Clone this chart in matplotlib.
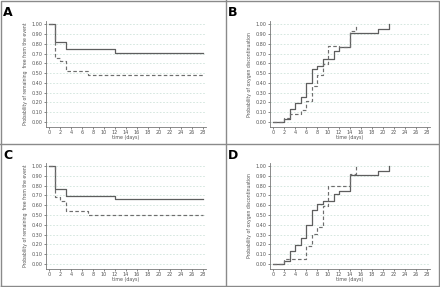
import matplotlib
matplotlib.use("Agg")
import matplotlib.pyplot as plt
from matplotlib.lines import Line2D

# Panel A (event-free survival)
a_solid_t = [0, 1, 3, 12, 28]
a_solid_p = [1.00, 0.82, 0.75, 0.71, 0.71]
a_dash_t = [0, 1, 2, 3, 7, 28]
a_dash_p = [1.00, 0.66, 0.62, 0.52, 0.48, 0.48]

# Panel B (oxygen discontinuation)
b_solid_t = [0, 2, 3, 4, 5, 6, 7, 8, 9, 11, 12, 14, 19, 21]
b_solid_p = [0.00, 0.03, 0.13, 0.19, 0.26, 0.40, 0.54, 0.57, 0.65, 0.73, 0.77, 0.91, 0.95, 1.00]
b_dash_t = [0, 2, 3, 5, 6, 7, 8, 9, 10, 12, 14, 15]
b_dash_p = [0.00, 0.04, 0.08, 0.12, 0.22, 0.37, 0.48, 0.59, 0.78, 0.77, 0.93, 1.00]

# Panel C
c_solid_t = [0, 1, 3, 12, 28]
c_solid_p = [1.00, 0.77, 0.69, 0.66, 0.66]
c_dash_t = [0, 1, 2, 3, 7, 28]
c_dash_p = [1.00, 0.68, 0.64, 0.54, 0.50, 0.50]

# Panel D
d_solid_t = [0, 2, 3, 4, 5, 6, 7, 8, 9, 11, 12, 14, 19, 21]
d_solid_p = [0.00, 0.03, 0.13, 0.19, 0.27, 0.40, 0.55, 0.61, 0.64, 0.71, 0.75, 0.91, 0.95, 1.00]
d_dash_t = [0, 2, 6, 7, 8, 9, 10, 14, 15]
d_dash_p = [0.00, 0.05, 0.18, 0.31, 0.38, 0.59, 0.80, 0.92, 1.00]

letters = ["A", "B", "C", "D"]
ylabel_surv = "Probability of remaining  free from the event"
ylabel_oxy = "Probability of oxygen discontinuation"
xlabel = "time (days)"
xticks = list(range(0, 29, 2))
yticks = [i / 10 for i in range(11)]

W, H = 440, 287
fig = plt.figure(figsize=(W / 100, H / 100), dpi=100)
fig.patch.set_facecolor("white")

# panel borders
bc = "#8a8a8a"
fig.add_artist(Line2D([1 / W, 1 - 1 / W, 1 - 1 / W, 1 / W, 1 / W],
                      [1 / H, 1 / H, 1 - 1 / H, 1 - 1 / H, 1 / H],
                      transform=fig.transFigure, color=bc, lw=1.0))
fig.add_artist(Line2D([226 / W, 226 / W], [0, 1], transform=fig.transFigure, color=bc, lw=1.0))
fig.add_artist(Line2D([0, 1], [1 - 144 / H, 1 - 144 / H], transform=fig.transFigure, color=bc, lw=1.0))

panels = [
    (a_solid_t, a_solid_p, a_dash_t, a_dash_p, ylabel_surv, 46.25, 126.9, 21.4),
    (b_solid_t, b_solid_p, b_dash_t, b_dash_p, ylabel_oxy, 270.25, 126.9, 21.4),
    (c_solid_t, c_solid_p, c_dash_t, c_dash_p, ylabel_surv, 46.25, 268.9, 163.1),
    (d_solid_t, d_solid_p, d_dash_t, d_dash_p, ylabel_oxy, 270.25, 268.9, 163.1),
]
letter_pos = [(3, 6), (228, 6), (3, 149), (228, 149)]

tc = "#555555"
for i, (st, sp, dt, dp, yl, lpx, bpx, tpx) in enumerate(panels):
    ax = fig.add_axes([lpx / W, 1 - bpx / H, 159.5 / W, (bpx - tpx) / H])
    ax.set_xlim(-0.5, 28.5)
    ax.set_ylim(-0.05, 1.03)
    for y in yticks:
        ax.axhline(y, color="#cfe3da", lw=0.6, ls=(0, (2, 2)), zorder=0)
    ax.step(st, sp, where="post", color="#5e5e5e", lw=0.9)
    ax.step(dt, dp, where="post", color="#6e6e6e", lw=0.85, ls=(0, (3, 2)))
    ax.set_xticks(xticks)
    ax.set_yticks(yticks)
    ax.set_yticklabels([f"{y:.2f}" for y in yticks])
    ax.tick_params(labelsize=3.5, colors=tc, length=1.5, width=0.5, pad=1)
    for s in ["top", "right"]:
        ax.spines[s].set_visible(False)
    for s in ["left", "bottom"]:
        ax.spines[s].set_color("#777777")
        ax.spines[s].set_linewidth(0.6)
    ax.set_xlabel(xlabel, fontsize=3.4, color=tc, labelpad=0)
    ax.set_ylabel(yl, fontsize=3.3, color=tc, labelpad=2.5)
    lx, ly = letter_pos[i]
    fig.text(lx / W, 1 - ly / H, letters[i], fontsize=9, fontweight="bold",
             va="top", ha="left", color="black")

fig.savefig("out.png", dpi=100)
